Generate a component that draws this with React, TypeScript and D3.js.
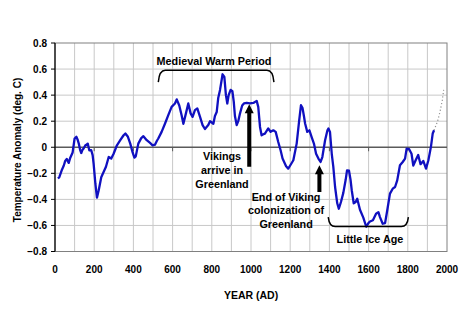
import React from "react";
import * as d3 from "d3";

const years = [15,22,36,45,52,60,70,78,90,100,109,115,121,128,134,140,146,155,162,167,175,185,192,197,206,214,223,236,248,260,274,287,299,316,333,350,359,372,384,396,405,412,425,440,451,468,485,498,510,520,527,544,561,578,595,612,621,634,646,655,668,680,692,702,714,726,740,753,765,782,791,800,808,816,825,833,842,855,864,872,879,886,896,905,912,918,927,935,944,955,964,978,995,1012,1029,1037,1046,1054,1063,1071,1088,1100,1114,1126,1139,1151,1161,1179,1190,1200,1216,1233,1246,1255,1263,1270,1276,1287,1298,1309,1321,1332,1344,1355,1364,1378,1390,1395,1403,1412,1420,1429,1440,1448,1459,1471,1483,1490,1500,1508,1514,1524,1534,1542,1556,1573,1588,1600,1607,1622,1638,1650,1658,1672,1684,1695,1709,1723,1735,1746,1760,1774,1786,1794,1807,1819,1828,1840,1853,1865,1879,1893,1905,1918,1927,1934];
const anomalies = [-0.24,-0.23,-0.17,-0.14,-0.105,-0.09,-0.12,-0.08,-0.04,0.067,0.08,0.06,0.03,-0.02,-0.044,-0.02,-0.01,0.015,0.02,0.028,-0.023,-0.023,-0.06,-0.125,-0.28,-0.387,-0.33,-0.23,-0.19,-0.15,-0.075,-0.087,-0.05,0.015,0.054,0.092,0.105,0.08,0.028,-0.04,-0.08,-0.07,0.028,0.07,0.085,0.054,0.033,0.015,0.02,0.05,0.067,0.118,0.18,0.246,0.31,0.336,0.367,0.32,0.246,0.18,0.26,0.336,0.26,0.233,0.285,0.298,0.233,0.17,0.14,0.17,0.2,0.19,0.18,0.24,0.27,0.38,0.44,0.56,0.54,0.4,0.336,0.4,0.44,0.43,0.35,0.24,0.17,0.2,0.26,0.32,0.336,0.34,0.336,0.34,0.356,0.31,0.156,0.092,0.1,0.105,0.144,0.118,0.13,0.118,0.04,-0.023,-0.087,-0.146,-0.164,-0.14,-0.1,0.028,0.208,0.323,0.3,0.24,0.182,0.118,0.13,0.08,0.028,-0.05,-0.087,-0.113,-0.075,0.054,0.13,0.144,0.118,-0.05,-0.15,-0.305,-0.43,-0.472,-0.42,-0.35,-0.25,-0.177,-0.18,-0.25,-0.33,-0.43,-0.42,-0.395,-0.48,-0.54,-0.61,-0.58,-0.57,-0.56,-0.51,-0.498,-0.536,-0.587,-0.582,-0.485,-0.356,-0.318,-0.305,-0.254,-0.138,-0.113,-0.087,-0.01,-0.015,-0.05,-0.14,-0.1,-0.06,-0.13,-0.105,-0.164,-0.1,0.003,0.105,0.13];

const recentYears = [1934, 1952, 1964, 1976, 1983];
const recentValues = [0.13, 0.2, 0.27, 0.36, 0.44];

const xTickValues = [0, 200, 400, 600, 800, 1000, 1200, 1400, 1600, 1800, 2000];
const yTickValues = [-0.8, -0.6, -0.4, -0.2, 0, 0.2, 0.4, 0.6, 0.8];

const xTitle = "YEAR (AD)";
const yTitle = "Temperature Anomaly (deg. C)";
const mwpLabel = "Medieval Warm Period";
const liaLabel = "Little Ice Age";
const vikingLines = ["Vikings", "arrive in", "Greenland"];
const endLines = ["End of Viking", "colonization of", "Greenland"];

const W = 468, H = 324;
const left = 55, right = 447, top = 43, bottom = 251.5;
const FONT = "'Liberation Sans', Arial, sans-serif";

export default function App() {
  const x = d3.scaleLinear().domain([0, 2000]).range([left, right]);
  const y = d3.scaleLinear().domain([-0.8, 0.8]).range([bottom, top]);

  const pts: [number, number][] = years.map((yr, i) => [yr, anomalies[i]]);
  const recent: [number, number][] = recentYears.map((yr, i) => [yr, recentValues[i]]);
  const line = d3.line<[number, number]>().x(d => x(d[0])).y(d => y(d[1]));

  const gridX = d3.range(100, 2000, 100);
  const gridY = yTickValues.filter(v => v !== 0 && Math.abs(v) < 0.8);

  const mwpL = x(527), mwpR = x(1117), mwpTop = y(0.59), mwpEnd = y(0.5);
  const liaL = x(1394), liaR = x(1803), liaTop = y(-0.536), liaBot = y(-0.608);

  const arrow = (xx: number, tipY: number, baseY: number) => {
    const hw = 4.5, hh = 9, sw = 2;
    return `M${xx - sw},${baseY} L${xx - sw},${tipY + hh} L${xx - hw},${tipY + hh} L${xx},${tipY} L${xx + hw},${tipY + hh} L${xx + sw},${tipY + hh} L${xx + sw},${baseY} Z`;
  };

  const textStyle = { fontFamily: FONT, fontWeight: 700, fontSize: 10.8, fill: "#000" } as const;

  return (
    <svg width={W} height={H} style={{ position: "absolute", left: 0, top: 0, background: "#fff" }}>
      <rect x={0} y={0} width={W} height={H} fill="#fff" />
      {gridX.map(g => (
        <line key={"gx" + g} x1={x(g)} x2={x(g)} y1={top} y2={bottom} stroke="#c8c8c8" strokeWidth={1} />
      ))}
      {gridY.map(g => (
        <line key={"gy" + g} x1={left} x2={right} y1={y(g)} y2={y(g)} stroke="#c8c8c8" strokeWidth={1} />
      ))}
      <rect x={left} y={top} width={right - left} height={bottom - top} fill="none" stroke="#808080" strokeWidth={1} />
      <line x1={left} x2={right} y1={y(0)} y2={y(0)} stroke="#5a5a5a" strokeWidth={1.5} />
      {xTickValues.slice(1, -1).map(t => (
        <line key={"xt" + t} x1={x(t)} x2={x(t)} y1={y(0)} y2={y(0) + 4} stroke="#5a5a5a" strokeWidth={1} />
      ))}
      <line x1={left} x2={left} y1={top} y2={bottom} stroke="#000" strokeWidth={1.2} />
      {yTickValues.map(t => (
        <line key={"yt" + t} x1={left - 4} x2={left} y1={y(t)} y2={y(t)} stroke="#000" strokeWidth={1} />
      ))}
      {yTickValues.map(t => (
        <text key={"yl" + t} x={47} y={y(t) + 3.6} textAnchor="end" style={{ ...textStyle, fontSize: 10 }}>
          {t === 0 ? "0" : d3.format(".1f")(t)}
        </text>
      ))}
      {xTickValues.map(t => (
        <text key={"xl" + t} x={x(t)} y={273} textAnchor="middle" style={{ ...textStyle, fontSize: 10 }}>
          {t}
        </text>
      ))}
      <text x={x(1000)} y={299} textAnchor="middle" style={{ ...textStyle, fontSize: 10.5 }}>{xTitle}</text>
      <text transform={`translate(21,150) rotate(-90)`} textAnchor="middle" style={{ ...textStyle, fontSize: 10 }}>{yTitle}</text>

      <path d={line(recent) || ""} fill="none" stroke="#909090" strokeWidth={1.2} strokeDasharray="1.2,2.2" />
      <path d={line(pts) || ""} fill="none" stroke="#1010c0" strokeWidth={2.3} strokeLinejoin="round" />

      <text x={x(811)} y={64.5} textAnchor="middle" style={textStyle}>{mwpLabel}</text>
      <path d={`M${mwpL},${mwpEnd} Q${mwpL + 1},${mwpTop} ${mwpL + 7},${mwpTop} L${mwpR - 7},${mwpTop} Q${mwpR - 1},${mwpTop} ${mwpR},${mwpEnd}`} fill="none" stroke="#000" strokeWidth={1.5} />

      <path d={arrow(x(991), y(0.33), y(-0.15))} fill="#000" />
      {vikingLines.map((s, i) => (
        <text key={"v" + i} x={x(852)} y={160 + i * 14} textAnchor="middle" style={textStyle}>{s}</text>
      ))}

      <path d={arrow(x(1349), y(-0.138), y(-0.344))} fill="#000" />
      {endLines.map((s, i) => (
        <text key={"e" + i} x={x(1179)} y={201 + i * 13.3} textAnchor="middle" style={textStyle}>{s}</text>
      ))}

      <path d={`M${liaL},${liaTop} Q${liaL + 1},${liaBot} ${liaL + 7},${liaBot} L${liaR - 7},${liaBot} Q${liaR - 1},${liaBot} ${liaR},${liaTop}`} fill="none" stroke="#000" strokeWidth={1.5} />
      <text x={x(1607)} y={243} textAnchor="middle" style={textStyle}>{liaLabel}</text>
    </svg>
  );
}
